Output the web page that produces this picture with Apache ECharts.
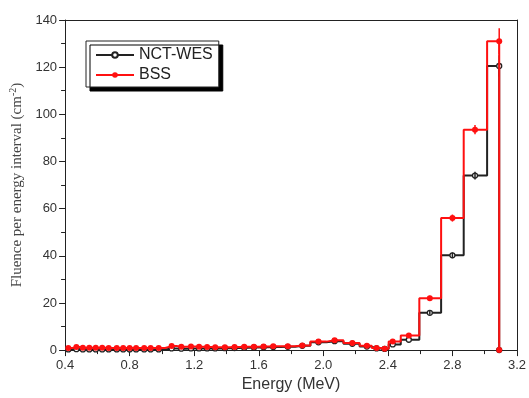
<!DOCTYPE html>
<html>
<head>
<meta charset="utf-8">
<script src="https://cdn.jsdelivr.net/npm/echarts@6/dist/echarts.min.js"></script>
<style>
html,body{margin:0;padding:0;background:#fff;}
#c{width:529px;height:398px;}
</style>
</head>
<body>
<div id="c"></div>
<script>
// Energies (MeV) at bin centres
const energies = [0.42, 0.47, 0.51, 0.55, 0.59, 0.63, 0.67, 0.72, 0.76, 0.80, 0.84, 0.89, 0.93, 0.98,
  1.06, 1.12, 1.18, 1.23, 1.28, 1.33, 1.39, 1.45, 1.51, 1.57, 1.63, 1.69,
  1.78, 1.87, 1.97, 2.07, 2.18, 2.27, 2.33, 2.38, 2.43, 2.53, 2.66, 2.80, 2.94, 3.09, 3.09];
// NCT-WES fluence (cm^-2)
const nctWes = [0.3, 0.4, 0.3, 0.3, 0.3, 0.3, 0.3, 0.3, 0.3, 0.3, 0.3, 0.3, 0.3, 0.3,
  0.7, 0.6, 0.7, 0.7, 0.7, 0.7, 0.8, 0.9, 1.0, 1.1, 1.2, 1.3,
  1.4, 1.8, 3.3, 3.8, 2.7, 1.5, 0.7, 0.5, 2.4, 4.4, 15.8, 40.2, 74.0, 120.5, 0];
// BSS fluence (cm^-2)
const bss = [0.9, 1.3, 1.0, 1.0, 1.0, 1.0, 0.9, 0.9, 0.9, 0.9, 0.9, 0.9, 0.9, 0.9,
  1.7, 1.4, 1.5, 1.4, 1.3, 1.2, 1.2, 1.3, 1.4, 1.4, 1.5, 1.6,
  1.6, 1.9, 3.6, 4.2, 3.0, 1.8, 0.9, 0.6, 3.6, 6.2, 22.0, 56.0, 93.5, 131.0, 0];
// Error bars (energy, half-width)
const errEnergies = [2.66, 2.80, 2.94, 3.09];
const nctWesErr = [0.8, 1.2, 1.6, 4.5];
const bssErr = [1.0, 1.5, 2.0, 5.5];
// Axis ticks
const xTicks = [0.4, 0.8, 1.2, 1.6, 2.0, 2.4, 2.8, 3.2];
const yTicks = [0, 20, 40, 60, 80, 100, 120, 140];

const chart = echarts.init(document.getElementById('c'), null, {renderer: 'canvas'});

function pairs(xs, ys) { return xs.map((x, i) => [x, ys[i]]); }
function errData(ex, ey, e) {
  return ex.map((x, i) => {
    const k = energies.indexOf(x);
    return [x, ey[k], e[i]];
  });
}
function errSeries(name, data, color, z) {
  return {
    name: name, type: 'custom', z: z, silent: true,
    encode: {x: 0, y: 1},
    renderItem: function (params, api) {
      const x = api.value(0), y = api.value(1), e = api.value(2);
      const p1 = api.coord([x, y - e]);
      const p2 = api.coord([x, y + e]);
      return {type: 'line', shape: {x1: p1[0], y1: p1[1], x2: p2[0], y2: p2[1]},
        style: {stroke: color, lineWidth: 1.5}};
    },
    data: data
  };
}

const axisCol = '#222';
const option = {
  animation: false,
  backgroundColor: '#fff',
  grid: {left: 64, right: 11, top: 20, bottom: 43, containLabel: false},
  legend: {
    data: ['NCT-WES', 'BSS'],
    orient: 'vertical',
    left: 86, top: 41,
    padding: [6, 6, 4, 9],
    itemWidth: 38, itemHeight: 7, itemGap: 4, itemTextGap: 5,
    backgroundColor: '#fff',
    borderColor: '#222', borderWidth: 1,
    shadowColor: '#000', shadowBlur: 0, shadowOffsetX: 4, shadowOffsetY: 4,
    textStyle: {fontFamily: 'Liberation Sans, Arial, sans-serif', fontSize: 16, color: '#222'}
  },
  xAxis: [{
    type: 'value', min: 0.4, max: 3.2, interval: 0.4,
    name: 'Energy (MeV)', nameLocation: 'middle', nameGap: 24,
    nameTextStyle: {fontFamily: 'Liberation Sans, Arial, sans-serif', fontSize: 16, color: '#333'},
    axisLine: {show: true, onZero: false, lineStyle: {color: axisCol, width: 1}},
    axisTick: {show: true, inside: false, length: 6, lineStyle: {color: axisCol}},
    minorTick: {show: true, splitNumber: 2, length: 4, lineStyle: {color: axisCol}},
    splitLine: {show: false},
    axisLabel: {margin: 9, fontFamily: 'Liberation Sans, Arial, sans-serif', fontSize: 13, color: '#333',
      formatter: v => v.toFixed(1)}
  }, {
    type: 'value', position: 'top', min: 0.4, max: 3.2, interval: 0.4,
    axisLine: {show: true, onZero: false, lineStyle: {color: axisCol, width: 1}},
    axisTick: {show: false}, axisLabel: {show: false}, splitLine: {show: false}
  }],
  yAxis: [{
    type: 'value', min: 0, max: 140, interval: 20,
    name: 'Fluence per energy interval (cm{sup|-2})', nameLocation: 'middle', nameGap: 30,
    nameTextStyle: {fontFamily: 'Liberation Serif, Times New Roman, serif', fontSize: 15, color: '#444',
      rich: {sup: {fontFamily: 'Liberation Serif, serif', fontSize: 10, color: '#444', verticalAlign: 'top', padding: [0, 0, 8, 0]}}},
    axisLine: {show: true, onZero: false, lineStyle: {color: axisCol, width: 1}},
    axisTick: {show: true, inside: false, length: 6, lineStyle: {color: axisCol}},
    minorTick: {show: true, splitNumber: 2, length: 4, lineStyle: {color: axisCol}},
    splitLine: {show: false},
    axisLabel: {margin: 8, fontFamily: 'Liberation Sans, Arial, sans-serif', fontSize: 13, color: '#333'}
  }, {
    type: 'value', position: 'right', min: 0, max: 140, interval: 20,
    axisLine: {show: true, onZero: false, lineStyle: {color: axisCol, width: 1}},
    axisTick: {show: false}, axisLabel: {show: false}, splitLine: {show: false}
  }],
  series: [
    {
      name: 'NCT-WES', type: 'line', step: 'middle', data: pairs(energies, nctWes),
      symbol: 'circle', symbolSize: 5, showAllSymbol: true,
      lineStyle: {color: '#222', width: 2},
      itemStyle: {color: '#fff', borderColor: '#222', borderWidth: 1.3},
      z: 2
    },
    errSeries('NCT-WES err', errData(errEnergies, nctWes, nctWesErr), '#222', 3),
    {
      name: 'BSS', type: 'line', step: 'middle', data: pairs(energies, bss),
      symbol: 'circle', symbolSize: 6, showAllSymbol: true,
      lineStyle: {color: '#ff1010', width: 2},
      itemStyle: {color: '#ff1010', borderColor: '#ff1010', borderWidth: 0},
      z: 4
    },
    errSeries('BSS err', errData(errEnergies, bss, bssErr), '#ff1010', 5)
  ]
};
chart.setOption(option);
</script>
</body>
</html>
